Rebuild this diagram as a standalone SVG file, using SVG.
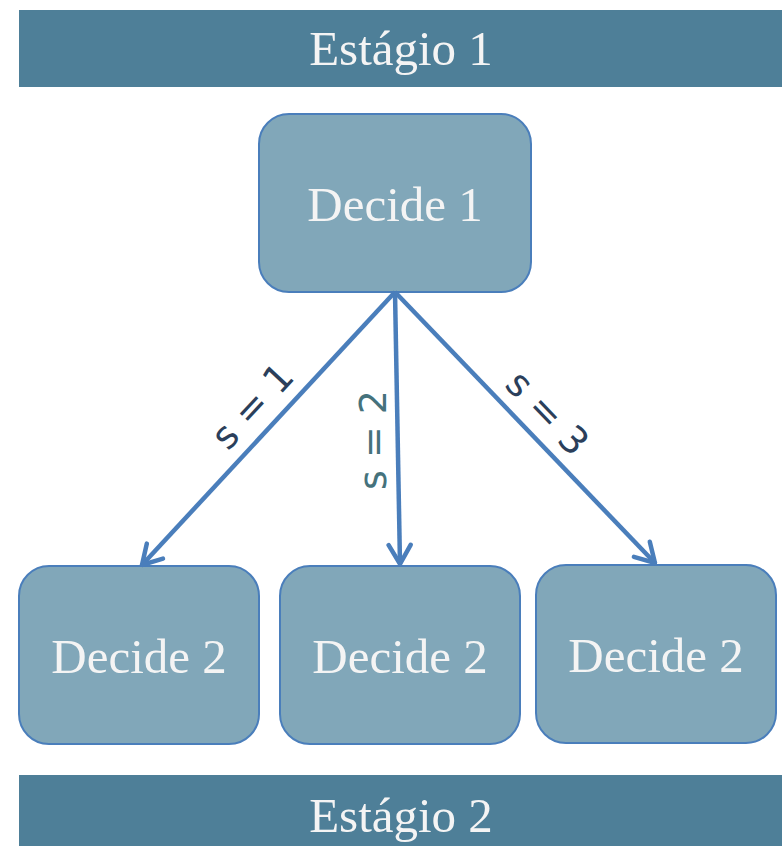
<svg xmlns="http://www.w3.org/2000/svg" width="782" height="846" viewBox="0 0 782 846">
  <style>
    .bar { fill: #4E7F98; }
    .box { fill: #81A7B9; stroke: #4A7EBB; stroke-width: 2; }
    .title { font-family: "Liberation Serif", "DejaVu Serif", serif; font-size: 49px; fill: #F4F4F4; text-anchor: middle; }
    .edge { stroke: #4A7EBB; stroke-width: 4.5; fill: none; marker-end: url(#chev); }
    .lbl { font-family: "DejaVu Sans", "Liberation Sans", sans-serif; font-size: 38px; text-anchor: middle; }
  </style>
  <defs>
    <marker id="chev" markerUnits="userSpaceOnUse" viewBox="0 0 24 28" refX="22" refY="14" markerWidth="24" markerHeight="28" orient="auto">
      <path d="M3,3 L22,14 L3,25" fill="none" stroke="#4A7EBB" stroke-width="4.5" stroke-linecap="round" stroke-linejoin="miter"/>
    </marker>
  </defs>

  <rect width="782" height="846" fill="#FFFFFF"/>

  <g id="stage1">
    <rect class="bar" x="19" y="10" width="763" height="77"/>
    <text class="title" x="401" y="65">Estágio 1</text>
  </g>

  <g id="decide1">
    <rect class="box" x="259" y="114" width="272" height="178" rx="30"/>
    <text class="title" x="395" y="221">Decide 1</text>
  </g>

  <g id="decide2a">
    <rect class="box" x="19" y="566" width="240" height="178" rx="30"/>
    <text class="title" x="139" y="673">Decide 2</text>
  </g>

  <g id="decide2b">
    <rect class="box" x="280" y="566" width="240" height="178" rx="30"/>
    <text class="title" x="400" y="673">Decide 2</text>
  </g>

  <g id="decide2c">
    <rect class="box" x="536" y="565" width="240" height="178" rx="30"/>
    <text class="title" x="656" y="672">Decide 2</text>
  </g>

  <g id="stage2">
    <rect class="bar" x="19" y="775" width="763" height="71"/>
    <text class="title" x="401" y="832">Estágio 2</text>
  </g>

  <g id="connectors">
    <line class="edge" x1="395" y1="292" x2="142" y2="565"/>
    <line class="edge" x1="395" y1="292" x2="400" y2="564"/>
    <line class="edge" x1="395" y1="292" x2="655" y2="563"/>
    <text class="lbl" fill="#2B3F5B" transform="translate(262,415) rotate(-47.2)">s = 1</text>
    <text class="lbl" fill="#45727C" transform="translate(386,440) rotate(-90)">s = 2</text>
    <text class="lbl" fill="#2B3F5B" transform="translate(538,422) rotate(46.3)">s = 3</text>
  </g>
</svg>
